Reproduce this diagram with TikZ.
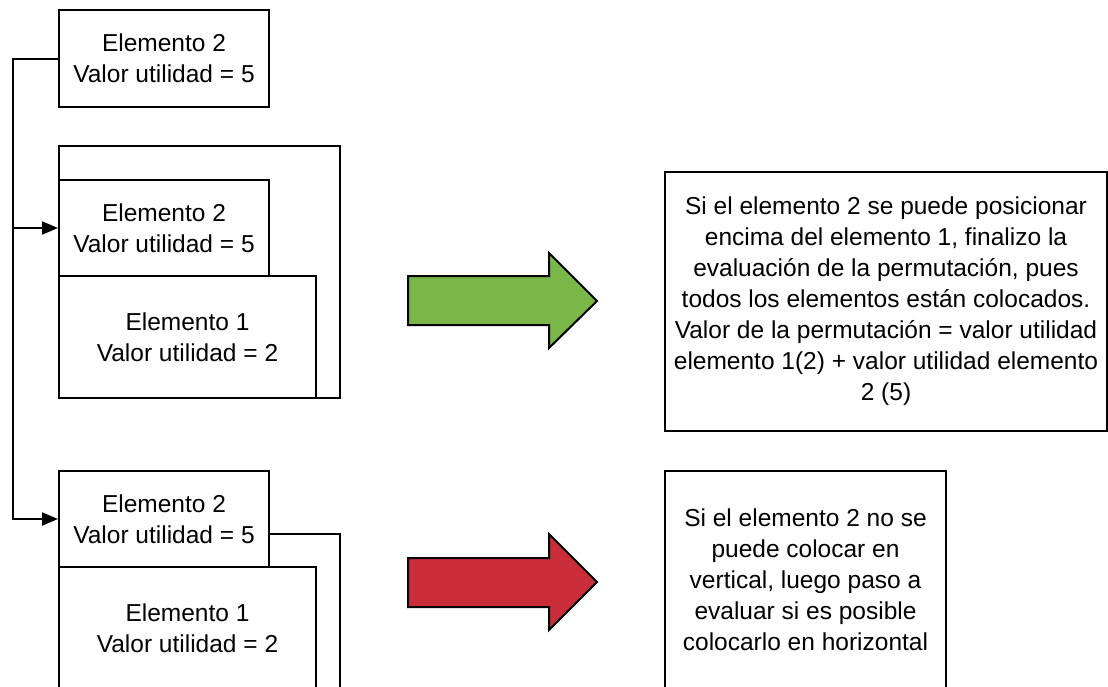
\documentclass[tikz,border=0pt]{standalone}
\usepackage{fontspec}
\setmainfont{Liberation Sans}
\usetikzlibrary{arrows.meta}
\definecolor{okgreen}{HTML}{7AB648}
\definecolor{kored}{HTML}{C92D39}
\tikzset{
  elem/.style={draw, fill=white, line width=2pt, inner sep=0pt, align=center,
    font=\fontsize{24.5}{31}\selectfont},
  conn/.style={line width=2pt, line join=miter, -{Triangle[length=16pt,width=13pt]}},
  fatarrow/.style={draw, line width=2pt, line join=miter},
}
\begin{document}
\begin{tikzpicture}[x=1pt, y=-1pt]
    \useasboundingbox (0,0) rectangle (1108,686);
    \clip (0,0) rectangle (1108,686);

    % Nodes
    \node[elem, minimum width=210pt, minimum height=97pt] (top2) at (164,58.5) {Elemento 2\\Valor utilidad = 5};

    \node[elem, minimum width=281pt, minimum height=252pt] (midframe) at (199.5,272) {};
    \node[elem, minimum width=210pt, minimum height=96pt] (mid2) at (164,228) {Elemento 2\\Valor utilidad = 5};
    \node[elem, minimum width=257pt, minimum height=122pt] (mid1) at (187.5,337) {Elemento 1\\Valor utilidad = 2};

    \node[elem, minimum width=281pt, minimum height=186pt] (botframe) at (199.5,627) {};
    \node[elem, minimum width=210pt, minimum height=96pt] (bot2) at (164,519) {Elemento 2\\Valor utilidad = 5};
    \node[elem, minimum width=257pt, minimum height=122pt] (bot1) at (187.5,628) {Elemento 1\\Valor utilidad = 2};

    \node[elem, minimum width=442pt, minimum height=259pt] (okmsg) at (886,301.5) {Si el elemento 2 se puede posicionar\\encima del elemento 1, finalizo la\\evaluación de la permutación, pues\\todos los elementos están colocados.\\Valor de la permutación = valor utilidad\\elemento 1(2) + valor utilidad elemento\\2 (5)};
    \node[elem, minimum width=281pt, minimum height=218pt] (komsg) at (805.5,580) {Si el elemento 2 no se\\puede colocar en\\vertical, luego paso a\\evaluar si es posible\\colocarlo en horizontal};

    \coordinate (trunk) at (13,58.5);

    % Lines
    \draw[conn] (top2.west) -- (trunk) |- (bot2.west);
    \draw[conn] (trunk |- mid2.west) -- (mid2.west);

    % flechas grandes
    \draw[fatarrow, fill=okgreen] (408,276) -- (549,276) -- (549,253) -- (597,301) -- (549,348) -- (549,325) -- (408,325) -- cycle;
    \draw[fatarrow, fill=kored] (408,558) -- (549,558) -- (549,534) -- (597,582) -- (549,630) -- (549,607) -- (408,607) -- cycle;

  \end{tikzpicture}
\end{document}
